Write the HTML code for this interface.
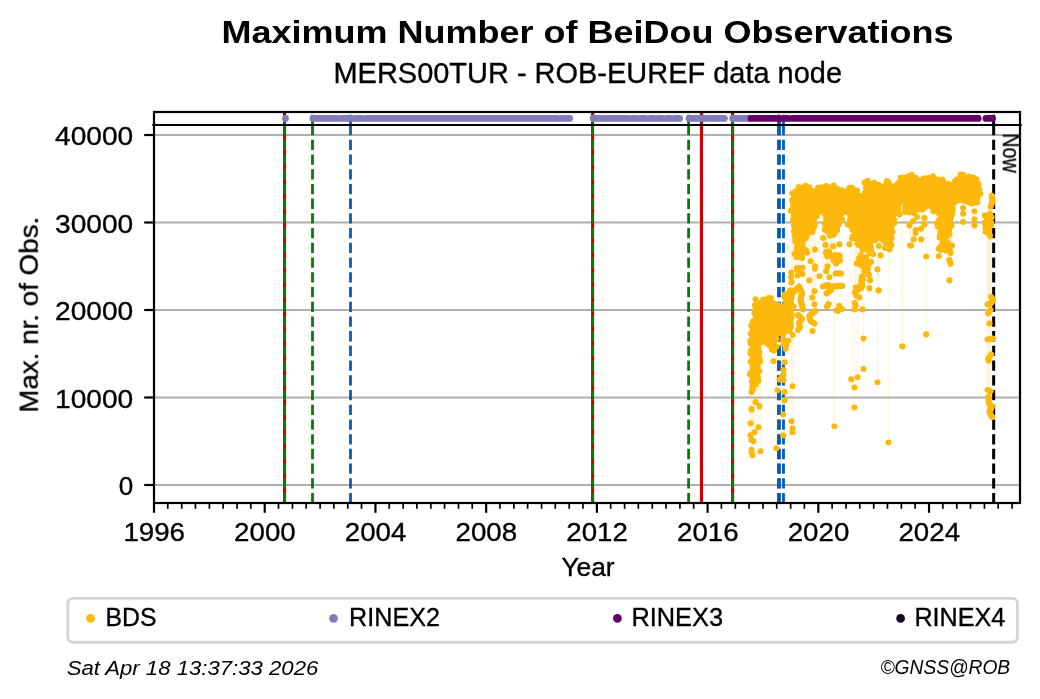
<!DOCTYPE html>
<html><head><meta charset="utf-8"><title>Maximum Number of BeiDou Observations</title>
<style>html,body{margin:0;padding:0;background:#fff}body{width:1040px;height:699px;overflow:hidden}svg{display:block}text{font-family:"Liberation Sans",sans-serif;fill:#000}</style>
</head><body>
<svg width="1040" height="699" viewBox="0 0 1040 699">
<rect width="1040" height="699" fill="#fff"/>
<g stroke="#b0b0b0" stroke-width="2.2" shape-rendering="auto">
<line x1="154.0" x2="1020.0" y1="485.0" y2="485.0"/>
<line x1="154.0" x2="1020.0" y1="397.5" y2="397.5"/>
<line x1="154.0" x2="1020.0" y1="310.0" y2="310.0"/>
<line x1="154.0" x2="1020.0" y1="222.5" y2="222.5"/>
<line x1="154.0" x2="1020.0" y1="135.0" y2="135.0"/>
</g>
<clipPath id="c"><rect x="154.0" y="112.0" width="866.0" height="391.0"/></clipPath>
<g clip-path="url(#c)">
<rect x="986.3" y="238" width="5.6" height="154" fill="#fdf4e1"/>
<path d="M791.5 205.0V282.0M809.2 205.0V280.5M814.5 205.0V291.3M812.2 205.0V297.5M814.5 205.0V304.3M812.5 205.0V331.0M792.5 205.0V335.0M751.5 325.0V392.0M755.5 325.0V402.0M759.5 325.0V406.0M751.5 325.0V409.0M773.5 325.0V361.2M784.5 325.0V362.2M783.5 325.0V370.0M783.5 325.0V375.0M779.5 325.0V379.5M783.5 325.0V380.0M782.0 325.0V376.5M792.5 205.0V386.2M777.5 325.0V390.3M784.5 325.0V392.0M784.5 325.0V400.0M755.5 325.0V402.2M759.5 325.0V406.5M751.5 325.0V409.5M750.5 325.0V423.3M758.5 325.0V427.2M754.5 325.0V432.2M750.5 325.0V435.2M751.5 325.0V440.0M753.5 325.0V441.3M751.5 325.0V449.7M751.5 325.0V452.5M752.5 325.0V455.3M760.5 325.0V451.3M776.3 325.0V448.3M784.5 325.0V400.5M783.3 325.0V414.5M783.3 325.0V435.3M791.5 205.0V421.3M792.5 205.0V428.3M792.5 205.0V432.2M834.3 205.0V426.3M815.0 205.0V249.6M810.6 205.0V261.2M815.0 205.0V266.2M815.0 205.0V268.8M809.4 205.0V280.4M819.4 205.0V276.2M791.2 205.0V272.5M791.2 205.0V276.9M791.2 205.0V282.5M823.1 205.0V238.1M825.4 205.0V245.0M833.1 205.0V246.2M839.4 205.0V244.4M827.5 205.0V266.2M826.2 205.0V271.2M829.4 205.0V277.2M823.8 205.0V286.2M828.1 205.0V285.0M814.4 205.0V291.2M849.4 205.0V244.4M878.8 205.0V246.0M880.6 205.0V255.4M877.5 205.0V269.4M870.0 205.0V280.4M869.4 205.0V288.1M878.8 205.0V290.6M910.0 205.0V245.6M855.6 205.0V287.5M860.0 205.0V286.2M855.0 205.0V292.5M856.2 205.0V295.6M859.4 205.0V297.5M854.8 205.0V303.1M855.6 205.0V305.6M854.4 205.0V309.4M862.5 205.0V309.4M869.4 205.0V288.5M878.4 205.0V290.4M863.5 205.0V338.5M902.2 205.0V346.2M863.5 205.0V369.0M857.5 205.0V377.2M851.2 205.0V379.4M854.4 205.0V387.5M877.5 205.0V382.2M854.4 205.0V407.5M888.5 205.0V442.5M921.2 205.0V228.8M915.6 205.0V230.0M915.6 205.0V233.1M913.8 205.0V239.4M921.2 205.0V239.4M911.2 205.0V245.6M926.2 205.0V256.5M938.8 205.0V248.8M942.5 205.0V248.1M946.2 205.0V250.6M950.0 205.0V250.0M950.6 205.0V253.1M938.8 205.0V256.2M951.9 205.0V245.6M949.4 205.0V280.4M989.4 205.0V323.5M902.5 205.0V346.5M926.2 205.0V334.4M795.0 205.0V291.0M802.0 205.0V293.0M802.0 205.0V305.0M798.0 205.0V315.0M799.0 205.0V323.0M798.0 205.0V330.0M815.5 205.0V311.0M809.2 205.0V316.0M814.5 205.0V323.5M823.0 205.0V286.5M831.0 205.0V290.0M834.0 205.0V286.5M828.5 205.0V304.0M835.6 205.0V273.5M833.8 205.0V286.2M949.4 205.0V260.0" stroke="#fcb80b" stroke-opacity="0.14" stroke-width="1.3" fill="none"/>
<path d="M284.55 503.3V125M284.55 125V111" stroke="#cd0000" stroke-width="3.1" fill="none" />
<path d="M284.55 503.3V125M284.55 125V111" stroke="#008000" stroke-width="2.8" fill="none" stroke-dasharray="10.28 4.44"/>
<path d="M312.5 503.3V125M312.5 125V111" stroke="#008000" stroke-width="2.8" fill="none" stroke-dasharray="10.28 4.44"/>
<path d="M350.5 503.3V125M350.5 125V111" stroke="#075cb7" stroke-width="2.8" fill="none" stroke-dasharray="10.28 4.44"/>
<path d="M592.6 503.3V125M592.6 125V111" stroke="#cd0000" stroke-width="3.1" fill="none" />
<path d="M592.6 503.3V125M592.6 125V111" stroke="#008000" stroke-width="2.8" fill="none" stroke-dasharray="10.28 4.44"/>
<path d="M688.6 503.3V125M688.6 125V111" stroke="#008000" stroke-width="2.8" fill="none" stroke-dasharray="10.28 4.44"/>
<path d="M701.45 503.3V125M701.45 125V111" stroke="#cd0000" stroke-width="3.1" fill="none" />
<path d="M732.6 503.3V125M732.6 125V111" stroke="#cd0000" stroke-width="3.1" fill="none" />
<path d="M732.6 503.3V125M732.6 125V111" stroke="#008000" stroke-width="2.8" fill="none" stroke-dasharray="10.28 4.44"/>
<path d="M778.45 503.3V125M778.45 125V111" stroke="#075cb7" stroke-width="2.8" fill="none" stroke-dasharray="10.28 4.44"/>
<path d="M779.5 503.3V125M779.5 125V111" stroke="#075cb7" stroke-width="2.8" fill="none" stroke-dasharray="10.28 4.44"/>
<path d="M783.5 503.3V125M783.5 125V111" stroke="#075cb7" stroke-width="2.8" fill="none" stroke-dasharray="10.28 4.44"/>
<path d="M993.66 503.3V125M993.66 125V111" stroke="#000" stroke-width="3.0" fill="none" stroke-dasharray="10.28 4.44"/>
<!--DATA-->
<path d="M986.4 231.8L988.1 233.2L988.3 233.3L988.5 233.5L988.6 233.7L988.7 233.9L988.8 234.1L988.9 234.3L989.0 234.6L989.0 234.8L989.4 237.9L989.8 238.2L990.1 236.0L990.1 230.1L990.1 229.9L990.6 223.9L990.6 223.6L991.6 218.7L991.9 215.4L991.0 214.9L988.5 214.0L986.4 213.7L985.9 214.2L985.4 218.2L985.5 222.9L986.0 227.8L986.4 231.8ZM791.9 212.5L791.9 212.5L792.2 212.6L792.4 212.7L792.6 212.8L792.8 212.9L793.0 213.0L793.2 213.2L793.4 213.4L793.5 213.6L793.6 213.8L793.7 214.0L793.8 214.2L793.9 214.5L793.9 214.7L794.0 214.9L794.0 215.2L793.9 215.4L793.1 220.1L793.7 229.6L795.5 235.5L795.6 235.8L795.6 236.0L795.6 236.3L795.6 236.6L795.0 241.1L796.2 245.6L796.2 245.9L796.2 246.1L796.2 246.3L796.2 246.5L796.2 246.7L795.0 252.5L796.0 257.1L799.0 258.6L801.7 257.9L802.6 254.4L802.6 254.1L802.7 253.9L802.9 253.7L803.0 253.5L803.2 253.3L803.4 253.1L803.6 253.0L803.8 252.8L804.0 252.7L807.1 251.4L807.3 250.2L803.9 248.5L803.7 248.4L803.5 248.2L803.3 248.1L803.1 247.9L803.0 247.7L802.8 247.5L802.7 247.3L802.6 247.0L802.6 246.8L802.5 246.6L802.5 246.3L802.5 246.1L802.5 245.8L802.6 245.6L802.7 245.4L804.5 240.4L804.6 240.1L804.8 239.9L804.9 239.7L805.1 239.5L805.3 239.3L805.5 239.2L805.7 239.0L805.9 238.9L807.7 238.2L808.1 234.7L808.2 234.5L808.2 234.2L808.3 234.0L808.4 233.8L808.6 233.6L808.7 233.4L808.9 233.2L809.1 233.0L812.1 230.6L814.7 228.0L813.8 224.4L813.8 224.1L813.8 223.8L813.8 223.6L813.8 223.3L813.8 223.1L813.9 222.8L816.4 216.6L816.5 216.4L816.6 216.2L818.2 213.7L818.3 213.5L818.5 213.3L818.7 213.1L818.9 212.9L819.1 212.8L819.3 212.7L819.6 212.6L819.8 212.6L820.1 212.5L820.3 212.5L823.3 212.5L823.6 212.5L823.8 212.5L824.1 212.6L824.3 212.7L824.5 212.8L824.7 212.9L824.9 213.1L825.1 213.2L825.3 213.4L825.4 213.6L825.6 213.8L825.7 214.1L825.7 214.3L825.8 214.5L825.8 214.8L826.2 219.8L826.2 220.0L826.2 220.3L826.2 220.5L826.1 220.7L824.4 226.5L824.8 230.8L827.9 232.1L828.1 232.2L828.3 232.3L828.5 232.4L828.6 232.6L828.8 232.8L828.9 233.0L829.1 233.2L829.2 233.4L830.4 236.2L834.0 236.2L836.6 233.6L838.2 229.4L838.8 223.5L838.8 223.3L838.8 223.1L838.9 222.8L839.0 222.6L841.5 217.7L842.9 214.1L843.0 213.8L843.2 213.6L843.3 213.4L843.5 213.2L843.7 213.1L843.8 212.9L844.1 212.8L844.3 212.7L844.5 212.6L844.8 212.5L845.0 212.5L845.2 212.5L848.3 212.5L848.6 212.5L848.8 212.5L849.0 212.6L849.3 212.7L849.5 212.8L849.7 212.9L849.9 213.0L850.1 213.2L850.2 213.4L850.4 213.6L850.5 213.8L850.6 214.0L850.7 214.2L850.8 214.5L850.8 214.7L850.8 214.9L850.8 215.2L850.8 215.4L850.6 216.7L850.6 216.8L848.8 225.3L848.8 226.9L850.8 227.6L851.0 227.7L851.3 227.8L851.5 228.0L851.7 228.1L851.9 228.3L852.0 228.5L852.2 228.7L852.3 229.0L852.4 229.2L853.6 233.0L853.7 233.2L853.7 233.5L853.7 233.7L853.7 234.0L853.7 234.2L853.6 234.5L853.6 234.7L853.5 234.9L853.3 235.1L853.2 235.4L851.3 237.6L851.4 237.5L851.7 237.5L851.9 237.5L852.2 237.5L852.4 237.6L852.7 237.6L852.9 237.7L853.1 237.8L853.3 238.0L853.5 238.1L853.7 238.3L853.9 238.5L855.8 241.0L855.9 241.2L856.0 241.4L856.1 241.7L856.2 241.9L857.1 245.4L860.6 246.3L860.8 246.4L861.1 246.5L861.3 246.6L861.5 246.8L861.7 246.9L861.9 247.1L862.0 247.3L862.2 247.5L862.3 247.7L862.4 248.0L863.2 250.4L866.9 251.3L867.1 251.4L867.3 251.5L867.5 251.6L867.8 251.8L867.9 251.9L868.1 252.1L868.3 252.3L868.4 252.5L868.5 252.7L868.6 253.0L869.2 254.6L871.4 254.1L872.4 252.1L871.3 246.7L871.3 246.5L871.3 246.2L871.3 246.0L871.3 245.7L871.4 245.5L872.6 241.7L872.7 241.5L872.8 241.3L873.0 241.0L873.1 240.8L873.3 240.7L873.5 240.5L873.7 240.4L873.9 240.2L874.2 240.1L874.4 240.1L879.4 238.8L879.6 238.8L879.9 238.8L880.1 238.8L880.3 238.8L880.6 238.8L880.8 238.9L881.0 239.0L883.8 240.2L884.0 240.3L884.2 240.5L884.4 240.6L884.6 240.8L884.7 241.0L884.9 241.2L885.0 241.4L885.1 241.6L885.2 241.9L885.2 242.1L885.2 242.4L885.2 242.6L885.1 247.0L887.4 249.0L889.9 249.7L891.5 248.1L890.8 245.8L890.7 245.5L890.6 245.3L890.6 245.0L890.6 244.8L890.7 244.5L890.7 244.3L892.5 238.5L891.9 230.2L891.9 230.0L891.9 229.7L891.9 229.5L892.0 229.3L893.8 223.2L894.7 214.8L894.8 214.6L894.8 214.3L894.9 214.1L895.0 213.9L895.1 213.7L895.3 213.5L895.4 213.3L895.6 213.1L895.8 213.0L896.0 212.9L896.2 212.8L896.5 212.7L896.7 212.6L896.9 212.6L897.2 212.6L897.4 212.6L897.7 212.6L897.9 212.7L898.1 212.8L898.4 212.9L898.6 213.0L898.8 213.1L898.8 206.2L898.8 206.0L898.8 205.8L898.8 205.6L898.9 205.3L899.0 205.1L900.3 202.6L900.4 202.4L900.5 202.2L900.7 202.0L900.9 201.8L901.1 201.7L901.3 201.6L901.5 201.4L901.8 201.4L902.0 201.3L902.2 201.3L902.5 201.2L903.4 201.2L903.7 201.3L903.9 201.3L904.1 201.4L904.4 201.4L904.6 201.5L904.8 201.6L905.0 201.8L905.2 201.9L905.3 202.1L905.5 202.3L905.6 202.5L905.7 202.7L905.8 202.9L905.9 203.1L906.2 204.5L906.3 204.8L906.3 205.1L906.4 212.5L908.2 212.5L908.2 212.5L908.4 212.3L908.6 212.2L908.8 212.1L909.0 211.9L909.3 211.9L909.5 211.8L909.7 211.8L910.0 211.8L910.2 211.8L910.5 211.8L910.7 211.8L910.9 211.9L914.2 213.2L915.5 211.6L915.7 211.4L915.9 211.2L916.1 211.0L916.3 210.9L916.6 210.8L916.8 210.7L917.1 210.7L917.3 210.6L924.0 210.1L926.5 205.1L926.6 204.9L926.8 204.7L926.9 204.5L927.1 204.4L927.3 204.2L927.5 204.1L927.7 204.0L927.9 203.9L928.2 203.8L928.4 203.8L928.6 203.8L928.9 203.8L929.1 203.8L929.4 203.8L929.6 203.9L929.8 204.0L930.0 204.1L930.2 204.2L930.4 204.4L930.6 204.6L930.7 204.7L930.9 204.9L931.0 205.2L931.1 205.4L932.8 210.0L934.0 211.5L938.1 212.6L938.3 212.6L938.6 212.7L938.8 212.9L939.0 213.0L939.2 213.2L939.4 213.3L939.5 213.5L939.7 213.8L939.8 214.0L939.9 214.2L939.9 214.5L940.0 214.7L940.0 215.0L940.0 215.2L940.0 215.5L939.9 215.7L939.8 215.9L939.7 216.2L939.6 216.4L937.6 219.4L938.1 224.7L939.3 232.1L939.4 232.3L939.4 232.5L939.4 232.7L938.9 237.6L942.5 240.3L942.5 240.2L942.5 240.0L942.5 239.7L942.6 239.5L942.6 239.2L942.7 239.0L942.8 238.8L942.9 238.6L943.1 238.4L943.3 238.2L943.5 238.0L943.7 237.9L943.9 237.8L947.8 235.8L948.8 230.8L948.9 230.5L948.9 230.3L949.0 230.1L949.2 229.9L949.3 229.7L949.5 229.5L952.3 226.6L951.3 220.4L951.3 220.2L951.3 219.9L951.3 219.6L951.3 219.4L951.4 219.1L951.5 218.9L953.5 214.9L951.4 209.7L951.3 209.4L951.3 209.2L951.3 209.0L951.3 208.7L951.3 208.5L951.3 208.2L951.4 208.0L951.4 207.8L951.5 207.6L951.7 207.4L951.8 207.2L952.0 207.0L955.7 203.2L956.0 203.0L961.0 199.2L961.2 199.1L961.4 199.0L961.6 198.9L961.9 198.8L962.1 198.8L962.3 198.8L962.6 198.8L962.8 198.8L963.0 198.8L963.3 198.9L963.5 199.0L963.7 199.1L963.9 199.2L964.1 199.3L964.3 199.5L964.4 199.7L964.6 199.9L966.6 202.9L970.1 204.2L975.2 202.7L976.7 201.7L977.0 201.5L977.2 201.4L977.5 201.3L977.5 201.2L977.5 200.9L977.6 200.6L979.4 193.4L979.4 184.2L978.0 180.4L974.1 178.0L967.1 176.8L966.9 176.8L966.7 176.7L966.5 176.6L966.3 176.5L962.9 174.6L961.5 175.2L958.1 179.1L958.0 179.3L957.8 179.5L952.8 183.2L952.6 183.4L952.4 183.5L952.1 183.6L951.9 183.7L951.7 183.7L951.5 183.7L951.2 183.8L946.2 183.8L946.0 183.7L945.8 183.7L945.5 183.6L945.3 183.6L945.1 183.5L944.9 183.3L944.7 183.2L944.5 183.0L944.3 182.8L944.2 182.6L942.4 180.0L938.8 180.0L938.5 180.0L938.3 180.0L938.0 179.9L937.8 179.8L937.6 179.7L937.4 179.6L934.2 177.5L929.3 177.5L924.1 179.8L923.9 179.9L923.6 179.9L923.4 180.0L923.1 180.0L918.8 180.0L918.5 180.0L918.3 180.0L918.0 179.9L917.8 179.8L917.6 179.7L917.4 179.6L917.2 179.4L917.0 179.3L913.3 175.6L910.9 173.6L904.0 176.5L903.0 177.7L902.8 177.9L902.6 178.0L902.4 178.2L900.6 179.3L897.5 184.4L897.5 184.9L897.5 185.1L897.5 185.4L897.4 185.6L897.3 185.8L897.2 186.0L897.1 186.2L897.0 186.4L896.8 186.6L896.6 186.8L896.4 186.9L896.2 187.1L896.0 187.2L895.8 187.2L895.6 187.3L895.3 187.4L895.1 187.4L894.8 187.4L894.6 187.3L894.4 187.3L894.1 187.2L893.9 187.1L893.7 187.0L891.8 185.9L891.7 185.8L891.5 185.6L891.3 185.5L891.2 185.3L891.0 185.1L888.6 181.5L887.5 180.1L886.8 180.6L884.0 185.1L883.9 185.3L883.7 185.5L883.5 185.6L883.3 185.8L883.1 185.9L882.9 186.0L882.7 186.1L882.4 186.2L882.2 186.2L881.9 186.2L881.7 186.2L881.4 186.2L881.2 186.2L880.9 186.1L877.8 184.8L877.6 184.7L877.4 184.6L877.2 184.5L877.0 184.3L874.4 181.9L871.5 183.0L871.3 183.0L871.0 183.1L870.8 183.1L870.6 183.1L870.3 183.1L870.1 183.1L869.9 183.0L869.6 182.9L869.4 182.8L869.2 182.7L869.0 182.6L868.9 182.4L868.7 182.2L868.6 182.0L866.9 179.6L865.5 180.7L864.4 195.8L864.3 196.1L864.3 196.3L864.2 196.5L864.1 196.8L864.0 197.0L863.8 197.2L863.7 197.4L863.5 197.5L863.3 197.7L863.1 197.8L862.9 197.9L862.6 198.0L862.4 198.1L862.1 198.1L861.9 198.1L861.6 198.1L861.4 198.1L861.2 198.0L860.9 197.9L860.7 197.8L860.5 197.7L860.3 197.6L860.1 197.4L858.9 196.1L858.7 196.0L858.5 195.8L858.4 195.5L858.3 195.3L858.2 195.1L856.6 189.7L853.6 187.7L853.4 187.6L853.2 187.4L851.7 185.8L850.4 186.9L846.8 190.5L846.6 190.7L846.4 190.8L846.2 190.9L846.0 191.0L845.8 191.1L845.5 191.2L845.3 191.2L845.1 191.2L844.8 191.2L844.6 191.2L840.8 190.6L840.6 190.5L840.3 190.5L840.1 190.3L839.9 190.2L839.7 190.1L839.5 189.9L835.7 186.1L832.8 185.7L828.4 187.3L828.1 187.4L827.9 187.5L827.6 187.5L827.4 187.5L827.1 187.5L826.9 187.4L822.8 186.4L819.9 187.8L815.6 190.3L815.4 190.4L815.2 190.5L815.0 190.6L814.7 190.6L814.5 190.6L814.3 190.6L814.0 190.6L813.8 190.6L813.6 190.5L813.3 190.4L813.1 190.3L808.8 187.8L808.6 187.7L808.4 187.5L808.2 187.4L806.2 185.4L804.3 187.4L804.1 187.6L803.9 187.7L803.7 187.8L803.5 187.9L803.2 188.0L803.0 188.1L802.7 188.1L802.5 188.1L802.3 188.1L802.0 188.1L801.8 188.0L801.5 187.9L801.3 187.8L801.1 187.7L799.2 186.4L796.9 189.1L796.7 189.3L796.5 189.5L796.3 189.6L796.1 189.7L793.5 191.1L792.5 196.4L793.1 202.3L793.1 202.5L793.1 202.7L793.1 202.9L792.7 205.4L792.6 205.7L792.6 205.7L792.6 205.9L791.9 210.2L791.9 212.5ZM866.6 257.9L866.4 257.9L866.1 257.9L865.9 257.8L865.7 257.7L865.5 257.6L865.3 257.4L865.2 257.3L860.8 256.5L859.6 257.7L857.6 261.7L858.0 264.8L862.6 267.9L862.8 268.1L863.0 268.2L863.2 268.4L863.3 268.6L863.4 268.8L863.5 269.0L863.6 269.2L863.7 269.5L863.7 269.7L863.7 269.9L863.7 270.2L863.7 270.4L863.2 273.2L863.3 273.2L863.5 273.0L863.6 272.9L863.9 272.8L864.1 272.7L864.3 272.6L864.5 272.5L864.8 272.5L865.0 272.5L865.3 272.5L865.5 272.6L865.7 272.6L866.0 272.7L866.2 272.8L866.4 272.9L866.6 273.1L866.8 273.2L866.9 273.4L867.1 273.6L868.4 275.5L869.7 274.8L869.5 273.3L867.8 269.9L867.7 269.6L867.6 269.4L867.5 269.2L867.5 268.9L867.5 268.7L867.5 268.5L867.6 268.2L867.6 268.0L867.7 267.8L867.8 267.5L867.9 267.3L868.1 267.1L870.5 264.2L870.1 261.3L867.4 259.1L867.2 259.0L867.1 258.8L866.9 258.6L866.8 258.4L866.7 258.2L866.6 257.9ZM862.7 276.5L861.2 285.4L861.2 285.6L861.1 285.9L861.0 286.1L860.9 286.3L860.8 286.5L860.6 286.7L860.4 286.8L860.3 287.0L860.1 287.1L859.9 287.2L856.7 288.8L856.9 289.5L860.8 289.5L863.7 282.2L862.7 276.5ZM943.7 242.1L943.7 242.2L943.7 242.4L943.7 242.7L943.7 242.9L943.7 243.2L943.6 243.4L943.5 243.6L943.4 243.8L943.2 244.0L943.1 244.2L942.9 244.4L939.3 247.5L939.0 249.5L946.0 249.5L947.8 246.3L947.9 246.1L948.1 245.9L948.3 245.7L948.5 245.5L948.7 245.4L948.9 245.3L950.9 244.3L944.3 242.4L944.1 242.3L943.8 242.2L943.7 242.1ZM840.7 310.2L841.1 306.9L840.9 306.6L837.8 307.6L837.5 309.4L838.0 312.9L838.2 313.0L840.7 310.2ZM836.4 262.8L838.1 263.4L840.0 261.5L840.0 257.5L840.0 257.2L840.1 256.9L840.7 254.3L838.8 253.8L834.4 254.9L834.1 255.0L833.8 255.0L833.6 255.0L833.3 255.0L833.1 254.9L832.8 254.8L832.6 254.7L832.4 254.6L832.2 254.4L832.0 254.3L829.1 251.4L825.0 251.8L824.0 253.1L824.0 253.4L827.5 255.3L827.6 255.4L831.4 257.9L831.6 258.1L831.8 258.2L836.4 262.8ZM797.9 275.6L799.4 276.0L801.7 274.0L801.3 270.3L801.3 270.1L801.3 269.8L801.3 269.5L801.4 269.3L801.4 269.1L801.5 268.8L801.7 268.6L801.8 268.4L802.0 268.2L802.2 268.0L803.9 266.7L799.2 266.3L795.6 267.9L795.6 269.2L797.0 271.0L797.1 271.2L797.3 271.4L797.4 271.7L797.4 271.9L797.5 272.2L797.9 275.6ZM774.6 302.5L774.4 302.4L774.1 302.3L773.9 302.3L773.7 302.1L773.5 302.0L773.3 301.9L773.2 301.7L773.0 301.5L770.5 298.2L768.1 297.4L766.2 298.2L763.3 300.3L761.6 302.9L761.4 303.1L761.3 303.3L761.1 303.4L760.9 303.6L760.7 303.7L760.5 303.8L757.0 305.3L756.7 305.4L756.5 305.4L756.3 305.5L756.0 305.5L754.8 305.5L754.5 306.4L754.5 320.0L754.5 320.2L754.5 320.5L754.4 320.7L754.3 320.9L754.2 321.1L754.1 321.3L754.0 321.5L751.5 324.9L751.0 340.0L751.5 359.9L751.5 360.1L751.0 380.0L751.0 386.7L753.5 388.6L757.4 383.7L759.4 379.6L758.0 370.4L758.0 370.1L758.0 369.9L758.0 369.6L759.0 362.6L759.0 362.5L760.5 354.9L759.5 346.3L759.5 346.0L759.5 345.7L759.6 345.5L759.6 345.2L760.6 342.2L760.7 342.0L760.8 341.8L761.0 341.5L761.1 341.4L761.3 341.2L761.5 341.0L761.7 340.9L761.9 340.8L762.1 340.7L762.4 340.6L762.6 340.5L762.9 340.5L763.1 340.5L763.4 340.5L763.6 340.6L763.8 340.6L764.1 340.7L764.3 340.9L769.3 343.9L769.5 344.0L769.7 344.1L769.8 344.3L770.0 344.5L770.1 344.7L770.2 344.9L772.2 348.7L774.3 352.0L775.3 351.0L775.3 337.0L775.3 336.8L775.3 336.5L775.4 336.3L775.5 336.0L775.6 335.8L775.7 335.6L775.9 335.4L776.0 335.2L776.2 335.1L776.4 334.9L776.6 334.8L776.8 334.7L777.1 334.6L777.3 334.5L777.6 334.5L777.8 334.5L781.8 334.5L782.0 334.5L782.3 334.5L782.5 334.6L782.8 334.7L782.8 334.7L785.8 328.9L785.9 328.7L786.0 328.5L786.2 328.3L786.3 328.1L786.5 328.0L786.7 327.8L786.9 327.7L787.2 327.6L787.4 327.6L790.7 326.7L792.2 325.2L791.6 322.6L791.5 322.4L791.5 322.1L791.5 321.9L791.5 321.6L791.6 321.4L791.7 321.1L792.9 317.8L792.0 313.5L792.0 313.3L792.0 313.1L792.0 312.8L792.5 305.1L791.5 296.3L791.5 296.0L791.5 295.8L791.5 295.5L792.3 291.5L792.4 291.3L792.5 291.0L792.6 290.8L792.7 290.6L792.9 290.4L793.0 290.2L793.1 290.2L788.5 291.1L787.8 291.5L787.6 291.6L787.4 291.8L787.1 291.8L786.9 291.9L786.8 291.9L785.4 292.6L784.5 304.2L784.5 304.4L784.4 304.7L784.3 304.9L784.2 305.1L784.1 305.3L784.0 305.5L783.8 305.7L783.7 305.9L783.5 306.0L783.3 306.2L783.1 306.3L782.8 306.4L782.6 306.4L782.4 306.5L782.1 306.5L781.9 306.5L781.6 306.5L781.4 306.4L781.2 306.4L781.0 306.3L780.7 306.2L780.5 306.0L780.4 305.9L776.9 302.8L774.6 302.5ZM795.3 289.5L799.0 289.5L799.2 287.6L798.8 287.3L795.3 289.5ZM784.3 338.7L784.3 345.9L784.7 350.5L787.4 343.7L787.1 341.2L784.3 338.7Z" fill="#fcb80b" fill-rule="evenodd" stroke="#fcb80b" stroke-width="2.6" stroke-linejoin="round"/>
<path d="M795.0 291.0L799.0 286.5L802.0 293.0L800.5 300.0L802.0 305.0L803.0 309.5M798.0 315.0L802.0 319.0L799.0 323.0L800.0 327.0L798.0 330.0M815.5 311.0L812.0 313.5L809.2 316.0L810.5 321.0L814.5 323.5M823.0 286.5L828.0 285.0L831.0 290.0L826.5 293.5M834.0 286.5L842.0 286.0M828.5 304.0L827.0 306.5M835.6 273.5L841.2 273.5M833.8 286.2L841.9 285.6M991.6 195.5L992.6 201.5L990.6 206.6M949.4 260.0L950.6 263.8M991.2 296.9L993.1 300.0L991.2 303.1L987.5 304.4M990.6 310.0L988.1 313.1M987.5 339.4L993.1 338.5M991.2 354.4L988.1 358.8L988.5 360.6M987.5 390.0L990.6 391.2M988.5 396.9L988.8 403.1L991.9 406.2L990.0 412.0M988.8 402.5L991.2 406.2L989.4 411.9L991.9 416.9M755.5 299.2v.01M791.5 282.0v.01M809.2 280.5v.01M814.5 291.3v.01M812.2 297.5v.01M814.5 304.3v.01M812.5 331.0v.01M789.5 331.0v.01M792.5 335.0v.01M751.5 392.0v.01M755.5 402.0v.01M759.5 406.0v.01M751.5 409.0v.01M773.5 361.2v.01M784.5 362.2v.01M783.5 370.0v.01M783.5 375.0v.01M779.5 379.5v.01M783.5 380.0v.01M782.0 376.5v.01M792.5 386.2v.01M777.5 390.3v.01M784.5 392.0v.01M784.5 400.0v.01M755.5 402.2v.01M759.5 406.5v.01M751.5 409.5v.01M750.5 423.3v.01M758.5 427.2v.01M754.5 432.2v.01M750.5 435.2v.01M751.5 440.0v.01M753.5 441.3v.01M751.5 449.7v.01M751.5 452.5v.01M752.5 455.3v.01M760.5 451.3v.01M776.3 448.3v.01M784.5 400.5v.01M783.3 414.5v.01M783.3 435.3v.01M791.5 421.3v.01M792.5 428.3v.01M792.5 432.2v.01M834.3 426.3v.01M815.0 249.6v.01M810.6 261.2v.01M815.0 266.2v.01M815.0 268.8v.01M809.4 280.4v.01M819.4 276.2v.01M791.2 272.5v.01M791.2 276.9v.01M791.2 282.5v.01M823.1 238.1v.01M825.4 245.0v.01M833.1 246.2v.01M839.4 244.4v.01M827.5 266.2v.01M826.2 271.2v.01M829.4 277.2v.01M823.8 286.2v.01M828.1 285.0v.01M814.4 291.2v.01M849.4 244.4v.01M878.8 246.0v.01M880.6 255.4v.01M877.5 269.4v.01M870.0 280.4v.01M869.4 288.1v.01M878.8 290.6v.01M909.4 225.0v.01M910.0 245.6v.01M899.4 214.4v.01M855.6 287.5v.01M860.0 286.2v.01M855.0 292.5v.01M856.2 295.6v.01M859.4 297.5v.01M854.8 303.1v.01M855.6 305.6v.01M854.4 309.4v.01M862.5 309.4v.01M869.4 288.5v.01M878.4 290.4v.01M863.5 338.5v.01M902.2 346.2v.01M863.5 369.0v.01M857.5 377.2v.01M851.2 379.4v.01M854.4 387.5v.01M877.5 382.2v.01M854.4 407.5v.01M888.5 442.5v.01M963.1 208.1v.01M963.1 213.8v.01M963.1 221.9v.01M974.4 211.2v.01M974.4 219.4v.01M974.4 225.6v.01M924.4 218.1v.01M924.4 224.4v.01M921.2 228.8v.01M915.6 230.0v.01M915.6 233.1v.01M913.1 221.2v.01M909.4 225.6v.01M913.8 239.4v.01M921.2 239.4v.01M911.2 245.6v.01M916.9 216.9v.01M926.2 256.5v.01M938.8 248.8v.01M942.5 248.1v.01M946.2 250.6v.01M950.0 250.0v.01M950.6 253.1v.01M938.8 256.2v.01M951.9 245.6v.01M949.4 280.4v.01M989.4 323.5v.01M902.5 346.5v.01M926.2 334.4v.01M985.5 231.8v.01M989.1 234.3v.01M990.0 235.8v.01M988.9 230.0v.01M991.2 225.2v.01M991.3 222.9v.01M991.6 217.2v.01M990.0 213.6v.01M984.7 215.5v.01M984.7 222.9v.01M985.6 227.3v.01M790.7 210.8v.01M793.6 216.0v.01M793.1 220.4v.01M794.0 225.3v.01M793.9 231.0v.01M794.8 236.1v.01M795.2 238.7v.01M795.4 241.4v.01M796.6 248.5v.01M794.7 253.8v.01M796.3 257.0v.01M802.1 258.1v.01M801.4 255.1v.01M807.2 252.7v.01M805.8 250.0v.01M802.7 246.6v.01M802.5 243.5v.01M805.2 238.7v.01M807.3 233.8v.01M812.2 232.1v.01M814.0 227.3v.01M814.8 225.3v.01M814.1 219.5v.01M816.8 216.0v.01M818.7 212.3v.01M824.9 214.1v.01M826.1 218.3v.01M824.5 223.5v.01M825.5 227.9v.01M824.7 229.8v.01M828.1 232.3v.01M830.1 235.8v.01M833.6 234.4v.01M837.1 230.2v.01M838.9 224.3v.01M838.9 221.7v.01M842.1 219.5v.01M843.4 212.2v.01M846.6 211.9v.01M849.8 214.8v.01M849.8 219.9v.01M847.7 224.5v.01M852.6 228.6v.01M852.5 229.9v.01M852.7 236.8v.01M852.2 238.5v.01M857.3 243.5v.01M859.0 245.1v.01M861.6 246.0v.01M862.7 249.8v.01M869.8 252.8v.01M873.2 254.3v.01M871.2 249.2v.01M870.5 246.1v.01M874.8 240.2v.01M878.6 238.1v.01M883.3 240.3v.01M885.2 242.0v.01M885.0 248.1v.01M889.5 249.4v.01M891.4 245.1v.01M890.1 244.4v.01M891.5 238.2v.01M892.4 231.9v.01M891.2 227.5v.01M894.1 223.4v.01M894.1 219.8v.01M894.0 213.9v.01M896.6 212.8v.01M898.5 209.2v.01M899.1 204.1v.01M902.9 201.1v.01M906.0 203.7v.01M905.1 207.2v.01M905.1 211.9v.01M909.4 212.4v.01M914.1 212.9v.01M919.0 209.5v.01M922.2 209.6v.01M925.8 206.7v.01M930.1 203.6v.01M931.6 206.8v.01M933.5 211.2v.01M938.6 212.9v.01M940.7 215.8v.01M938.8 220.6v.01M937.0 223.2v.01M938.0 226.7v.01M940.0 234.8v.01M939.5 237.6v.01M943.2 241.3v.01M946.2 236.9v.01M949.5 234.5v.01M949.0 229.9v.01M951.5 225.7v.01M950.1 220.9v.01M951.2 216.6v.01M952.6 211.3v.01M952.5 208.5v.01M952.9 204.2v.01M957.6 200.4v.01M962.3 199.9v.01M963.9 201.3v.01M969.1 202.6v.01M972.4 203.5v.01M977.3 202.4v.01M977.5 197.6v.01M980.2 193.7v.01M979.5 189.7v.01M978.4 184.2v.01M976.4 179.2v.01M973.0 177.5v.01M969.3 176.6v.01M963.2 174.9v.01M960.4 174.5v.01M956.8 179.5v.01M954.6 181.7v.01M948.2 183.7v.01M943.8 182.6v.01M942.4 179.6v.01M937.0 179.3v.01M932.9 176.3v.01M928.2 178.1v.01M923.9 178.4v.01M919.9 180.4v.01M915.5 177.9v.01M911.6 174.8v.01M910.2 175.6v.01M903.4 177.6v.01M900.6 177.7v.01M898.3 183.0v.01M896.7 185.4v.01M891.3 186.0v.01M888.5 182.6v.01M886.8 181.1v.01M883.7 186.4v.01M878.4 184.7v.01M873.9 182.8v.01M870.1 183.9v.01M867.7 180.9v.01M864.5 182.5v.01M866.0 187.2v.01M864.9 192.8v.01M864.8 195.3v.01M861.3 197.7v.01M859.3 195.8v.01M857.0 190.5v.01M852.1 188.3v.01M849.5 187.9v.01M845.2 191.5v.01M841.7 190.3v.01M837.1 188.9v.01M833.6 185.5v.01M830.8 187.3v.01M826.0 186.0v.01M821.6 187.3v.01M818.0 187.8v.01M813.5 191.1v.01M809.2 187.3v.01M805.6 185.8v.01M803.8 187.3v.01M798.7 187.1v.01M795.7 191.6v.01M792.3 193.3v.01M792.1 200.0v.01M793.2 203.7v.01M793.2 207.1v.01M866.2 257.0v.01M860.8 255.2v.01M859.1 258.5v.01M856.9 263.5v.01M862.3 265.8v.01M864.3 271.1v.01M867.6 274.6v.01M868.9 274.8v.01M867.8 268.7v.01M868.5 264.8v.01M871.1 261.8v.01M861.9 276.9v.01M861.1 280.8v.01M861.5 287.5v.01M858.1 289.8v.01M860.9 288.3v.01M862.4 285.8v.01M862.9 279.6v.01M942.7 243.2v.01M940.6 246.5v.01M940.7 249.9v.01M944.9 249.2v.01M946.9 245.6v.01M947.7 242.6v.01M842.2 309.0v.01M839.3 305.8v.01M836.7 310.4v.01M836.1 263.4v.01M839.8 260.5v.01M839.8 256.2v.01M839.0 255.2v.01M834.9 255.1v.01M828.9 251.4v.01M826.4 251.5v.01M827.3 255.7v.01M827.3 256.5v.01M833.6 260.4v.01M797.5 275.4v.01M802.5 274.0v.01M800.3 268.4v.01M802.4 267.7v.01M797.1 268.1v.01M796.9 269.5v.01M773.3 303.4v.01M770.7 298.1v.01M768.4 298.0v.01M763.2 299.6v.01M760.3 303.0v.01M755.0 305.0v.01M755.7 308.6v.01M754.4 313.1v.01M755.7 317.5v.01M752.7 321.6v.01M751.2 325.6v.01M752.4 330.1v.01M750.8 333.7v.01M750.2 340.8v.01M751.1 344.0v.01M750.8 350.7v.01M750.6 353.5v.01M752.6 357.5v.01M750.7 361.7v.01M752.5 366.7v.01M750.5 372.8v.01M749.9 374.5v.01M752.0 381.8v.01M752.3 387.3v.01M752.7 389.7v.01M755.7 384.6v.01M758.4 380.5v.01M757.7 376.4v.01M759.5 371.0v.01M757.8 365.7v.01M760.0 361.6v.01M759.6 358.7v.01M759.4 352.1v.01M758.5 347.7v.01M760.8 342.5v.01M760.2 342.2v.01M766.6 342.9v.01M769.4 345.6v.01M771.8 349.6v.01M774.0 350.4v.01M776.4 346.7v.01M774.1 340.7v.01M776.5 339.0v.01M776.8 334.3v.01M783.4 333.7v.01M785.6 331.3v.01M788.2 327.0v.01M790.9 327.0v.01M790.8 323.3v.01M791.7 316.7v.01M791.6 314.0v.01M793.6 306.7v.01M791.4 304.6v.01M791.6 297.9v.01M792.0 295.1v.01M793.4 290.7v.01M790.3 290.4v.01M785.0 294.4v.01M784.3 296.9v.01M785.7 302.3v.01M782.6 307.6v.01M777.9 305.1v.01M796.9 288.5v.01M800.0 289.0v.01M783.1 339.2v.01M783.5 344.1v.01M785.7 348.8v.01M786.2 345.8v.01M788.4 340.8v.01" stroke="#fcb80b" stroke-width="6.1" stroke-linecap="round" stroke-linejoin="round" fill="none"/>
</g>
<line x1="152.3" x2="1021.8" y1="125" y2="125" stroke="#000" stroke-width="2.1"/>
<path d="M285.5 118.4H285.51M312.9 118.4H336.61M340.9 118.4H352.36M356.6 118.4H362.86M367.1 118.4H557.36M561.6 118.4H569.61M593.1 118.4H627.86M632.1 118.4H636.61M640.9 118.4H645.36M649.6 118.4H653.86M658.1 118.4H662.86M667.1 118.4H670.36M674.6 118.4H679.61M689.0 118.4H724.41M732.7 118.4H748.61" stroke="#807dba" stroke-width="6.8" stroke-linecap="round" fill="none"/>
<path d="M750.9 118.4H779.36M783.6 118.4H788.06M792.4 118.4H978.21M986.0 118.4H992.61" stroke="#65006a" stroke-width="6.8" stroke-linecap="round" fill="none"/>
<rect x="154.0" y="112.0" width="866.0" height="391.0" fill="none" stroke="#000" stroke-width="2.2"/>
<g stroke="#000" stroke-width="2.2">
<line x1="144.2" x2="154.0" y1="485.0" y2="485.0"/>
<line x1="144.2" x2="154.0" y1="397.5" y2="397.5"/>
<line x1="144.2" x2="154.0" y1="310.0" y2="310.0"/>
<line x1="144.2" x2="154.0" y1="222.5" y2="222.5"/>
<line x1="144.2" x2="154.0" y1="135.0" y2="135.0"/>
<line x1="154.00" x2="154.00" y1="503.0" y2="512.8"/>
<line x1="264.72" x2="264.72" y1="503.0" y2="512.8"/>
<line x1="375.44" x2="375.44" y1="503.0" y2="512.8"/>
<line x1="486.16" x2="486.16" y1="503.0" y2="512.8"/>
<line x1="596.88" x2="596.88" y1="503.0" y2="512.8"/>
<line x1="707.60" x2="707.60" y1="503.0" y2="512.8"/>
<line x1="818.32" x2="818.32" y1="503.0" y2="512.8"/>
<line x1="929.04" x2="929.04" y1="503.0" y2="512.8"/>
</g>
<g stroke="#000" stroke-width="1.7">
<line x1="167.79" x2="167.79" y1="503.0" y2="508.8"/>
<line x1="181.74" x2="181.74" y1="503.0" y2="508.8"/>
<line x1="195.45" x2="195.45" y1="503.0" y2="508.8"/>
<line x1="209.40" x2="209.40" y1="503.0" y2="508.8"/>
<line x1="223.11" x2="223.11" y1="503.0" y2="508.8"/>
<line x1="237.06" x2="237.06" y1="503.0" y2="508.8"/>
<line x1="250.78" x2="250.78" y1="503.0" y2="508.8"/>
<line x1="278.51" x2="278.51" y1="503.0" y2="508.8"/>
<line x1="292.46" x2="292.46" y1="503.0" y2="508.8"/>
<line x1="306.17" x2="306.17" y1="503.0" y2="508.8"/>
<line x1="320.12" x2="320.12" y1="503.0" y2="508.8"/>
<line x1="333.83" x2="333.83" y1="503.0" y2="508.8"/>
<line x1="347.78" x2="347.78" y1="503.0" y2="508.8"/>
<line x1="361.50" x2="361.50" y1="503.0" y2="508.8"/>
<line x1="389.23" x2="389.23" y1="503.0" y2="508.8"/>
<line x1="403.18" x2="403.18" y1="503.0" y2="508.8"/>
<line x1="416.89" x2="416.89" y1="503.0" y2="508.8"/>
<line x1="430.84" x2="430.84" y1="503.0" y2="508.8"/>
<line x1="444.55" x2="444.55" y1="503.0" y2="508.8"/>
<line x1="458.50" x2="458.50" y1="503.0" y2="508.8"/>
<line x1="472.22" x2="472.22" y1="503.0" y2="508.8"/>
<line x1="499.95" x2="499.95" y1="503.0" y2="508.8"/>
<line x1="513.90" x2="513.90" y1="503.0" y2="508.8"/>
<line x1="527.61" x2="527.61" y1="503.0" y2="508.8"/>
<line x1="541.56" x2="541.56" y1="503.0" y2="508.8"/>
<line x1="555.27" x2="555.27" y1="503.0" y2="508.8"/>
<line x1="569.22" x2="569.22" y1="503.0" y2="508.8"/>
<line x1="582.94" x2="582.94" y1="503.0" y2="508.8"/>
<line x1="610.67" x2="610.67" y1="503.0" y2="508.8"/>
<line x1="624.62" x2="624.62" y1="503.0" y2="508.8"/>
<line x1="638.33" x2="638.33" y1="503.0" y2="508.8"/>
<line x1="652.28" x2="652.28" y1="503.0" y2="508.8"/>
<line x1="665.99" x2="665.99" y1="503.0" y2="508.8"/>
<line x1="679.94" x2="679.94" y1="503.0" y2="508.8"/>
<line x1="693.66" x2="693.66" y1="503.0" y2="508.8"/>
<line x1="721.39" x2="721.39" y1="503.0" y2="508.8"/>
<line x1="735.34" x2="735.34" y1="503.0" y2="508.8"/>
<line x1="749.05" x2="749.05" y1="503.0" y2="508.8"/>
<line x1="763.00" x2="763.00" y1="503.0" y2="508.8"/>
<line x1="776.71" x2="776.71" y1="503.0" y2="508.8"/>
<line x1="790.66" x2="790.66" y1="503.0" y2="508.8"/>
<line x1="804.38" x2="804.38" y1="503.0" y2="508.8"/>
<line x1="832.11" x2="832.11" y1="503.0" y2="508.8"/>
<line x1="846.06" x2="846.06" y1="503.0" y2="508.8"/>
<line x1="859.77" x2="859.77" y1="503.0" y2="508.8"/>
<line x1="873.72" x2="873.72" y1="503.0" y2="508.8"/>
<line x1="887.43" x2="887.43" y1="503.0" y2="508.8"/>
<line x1="901.38" x2="901.38" y1="503.0" y2="508.8"/>
<line x1="915.10" x2="915.10" y1="503.0" y2="508.8"/>
<line x1="942.83" x2="942.83" y1="503.0" y2="508.8"/>
<line x1="956.78" x2="956.78" y1="503.0" y2="508.8"/>
<line x1="970.49" x2="970.49" y1="503.0" y2="508.8"/>
<line x1="984.44" x2="984.44" y1="503.0" y2="508.8"/>
<line x1="998.15" x2="998.15" y1="503.0" y2="508.8"/>
<line x1="1012.10" x2="1012.10" y1="503.0" y2="508.8"/>
</g>
<filter id="f" x="-5%" y="-5%" width="110%" height="110%"><feOffset dx="0" dy="0"/></filter><g filter="url(#f)">
<text x="587.5" y="42.9" font-size="30.6" text-anchor="middle" textLength="732" lengthAdjust="spacingAndGlyphs" font-weight="bold">Maximum Number of BeiDou Observations</text>
<text x="587.75" y="82.9" font-size="30.0" text-anchor="middle" textLength="508.5" lengthAdjust="spacingAndGlyphs" stroke="#000" stroke-width="0.35" >MERS00TUR - ROB-EUREF data node</text>
<text x="133.2" y="495.3" font-size="26.6" text-anchor="end" textLength="14.5" lengthAdjust="spacingAndGlyphs" stroke="#000" stroke-width="0.35" >0</text>
<text x="133.2" y="407.8" font-size="26.6" text-anchor="end" textLength="78.2" lengthAdjust="spacingAndGlyphs" stroke="#000" stroke-width="0.35" >10000</text>
<text x="133.2" y="320.3" font-size="26.6" text-anchor="end" textLength="78.2" lengthAdjust="spacingAndGlyphs" stroke="#000" stroke-width="0.35" >20000</text>
<text x="133.2" y="232.8" font-size="26.6" text-anchor="end" textLength="78.2" lengthAdjust="spacingAndGlyphs" stroke="#000" stroke-width="0.35" >30000</text>
<text x="133.2" y="145.3" font-size="26.6" text-anchor="end" textLength="78.2" lengthAdjust="spacingAndGlyphs" stroke="#000" stroke-width="0.35" >40000</text>
<text x="154.20" y="541" font-size="26.6" text-anchor="middle" textLength="61.6" lengthAdjust="spacingAndGlyphs" stroke="#000" stroke-width="0.35" >1996</text>
<text x="264.92" y="541" font-size="26.6" text-anchor="middle" textLength="61.6" lengthAdjust="spacingAndGlyphs" stroke="#000" stroke-width="0.35" >2000</text>
<text x="375.64" y="541" font-size="26.6" text-anchor="middle" textLength="61.6" lengthAdjust="spacingAndGlyphs" stroke="#000" stroke-width="0.35" >2004</text>
<text x="486.36" y="541" font-size="26.6" text-anchor="middle" textLength="61.6" lengthAdjust="spacingAndGlyphs" stroke="#000" stroke-width="0.35" >2008</text>
<text x="597.08" y="541" font-size="26.6" text-anchor="middle" textLength="61.6" lengthAdjust="spacingAndGlyphs" stroke="#000" stroke-width="0.35" >2012</text>
<text x="707.80" y="541" font-size="26.6" text-anchor="middle" textLength="61.6" lengthAdjust="spacingAndGlyphs" stroke="#000" stroke-width="0.35" >2016</text>
<text x="818.52" y="541" font-size="26.6" text-anchor="middle" textLength="61.6" lengthAdjust="spacingAndGlyphs" stroke="#000" stroke-width="0.35" >2020</text>
<text x="929.24" y="541" font-size="26.6" text-anchor="middle" textLength="61.6" lengthAdjust="spacingAndGlyphs" stroke="#000" stroke-width="0.35" >2024</text>
<text x="588" y="575.7" font-size="26.6" text-anchor="middle" textLength="53.2" lengthAdjust="spacingAndGlyphs" stroke="#000" stroke-width="0.35" >Year</text>
<text transform="translate(37.8,314.75) rotate(-90)" font-size="26.6" stroke="#000" stroke-width="0.35" text-anchor="middle" textLength="196" lengthAdjust="spacingAndGlyphs">Max. nr. of Obs.</text>
<text transform="translate(1002.9,133.3) rotate(90)" font-size="23.6" stroke="#000" stroke-width="0.3" textLength="39.4" lengthAdjust="spacingAndGlyphs">Now</text>
<rect x="67.8" y="598.4" width="949.6" height="43.9" rx="5" ry="5" fill="#fff" stroke="#d5d5d5" stroke-width="2.9"/>
<circle cx="90.5" cy="618.4" r="4.35" fill="#fcb80b"/>
<circle cx="333.5" cy="618.4" r="4.35" fill="#807dba"/>
<circle cx="617.4" cy="618.4" r="4.35" fill="#65006a"/>
<circle cx="900.6" cy="618.4" r="4.35" fill="#1a0522"/>
<text x="105.5" y="626" font-size="26.6" text-anchor="start" textLength="51" lengthAdjust="spacingAndGlyphs" stroke="#000" stroke-width="0.35" >BDS</text>
<text x="349.1" y="626" font-size="26.6" text-anchor="start" textLength="90.8" lengthAdjust="spacingAndGlyphs" stroke="#000" stroke-width="0.35" >RINEX2</text>
<text x="631.4" y="626" font-size="26.6" text-anchor="start" textLength="91.7" lengthAdjust="spacingAndGlyphs" stroke="#000" stroke-width="0.35" >RINEX3</text>
<text x="914.4" y="626" font-size="26.6" text-anchor="start" textLength="90.9" lengthAdjust="spacingAndGlyphs" stroke="#000" stroke-width="0.35" >RINEX4</text>
<text x="66.7" y="675.2" font-size="19.6" text-anchor="start" textLength="251.6" lengthAdjust="spacingAndGlyphs" font-style="italic">Sat Apr 18 13:37:33 2026</text>
<text x="880.4" y="674.4" font-size="19.6" text-anchor="start" textLength="129.8" lengthAdjust="spacingAndGlyphs" font-style="italic">©GNSS@ROB</text>
</g>
</svg></body></html>
